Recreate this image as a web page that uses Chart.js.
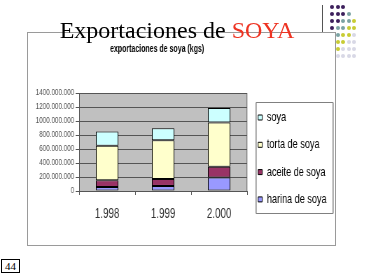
<!DOCTYPE html>
<html>
<head>
<meta charset="utf-8">
<script src="https://cdn.jsdelivr.net/npm/chart.js@4.4.1/dist/chart.umd.min.js"></script>
<style>
  html, body { margin: 0; padding: 0; background: #fff; }
  body { width: 368px; height: 276px; position: relative; overflow: hidden;
         font-family: 'Liberation Serif', 'Times New Roman', serif; }
  .dot { position: absolute; width: 4px; height: 4px; border-radius: 50%; }
  #vline { position: absolute; left: 322px; top: 5px; width: 1px; height: 27px; background: #555; }
  #box { position: absolute; left: 27px; top: 32px; width: 309px; height: 214px;
         box-sizing: border-box; border: 1px solid #9a9a9a; background: #fff; }
  /* the original excel picture is squeezed sideways */
  #chart { position: absolute; left: 28px; top: 33px; transform: scaleX(0.7); transform-origin: 0 0; }
  #slideTitle { position: absolute; left: 0; width: 354px; top: 18px; text-align: center;
                font-size: 24px; line-height: 24px; color: #000; white-space: nowrap; }
  #slideTitle span { color: #ee3322; }
  #pageNum { position: absolute; left: 1px; top: 259px; width: 19px; height: 14px; box-sizing: border-box;
             border: 1px solid #000; font-size: 11px; line-height: 12px; text-align: center; }
</style>
</head>
<body>
<div id="dots"></div>
<div id="vline"></div>
<div id="box"></div>
<canvas id="chart" width="440" height="212"></canvas>
<div id="slideTitle">Exportaciones de <span>SOYA</span></div>
<div id="pageNum">44</div>
<script>
// kgs exported per year
const years = ['1.998', '1.999', '2.000'];
const harina = [58000000, 72000000, 192000000];
const aceite = [95000000, 100000000, 153000000];
const torta = [494000000, 552000000, 633000000];
const soya = [202000000, 173000000, 207000000];

const seriesNames = ['harina de soya', 'aceite de soya', 'torta de soya', 'soya'];
const seriesColors = ['#9999ff', '#993366', '#ffffcc', '#ccffff'];
const yTicks = ['0', '200.000.000', '400.000.000', '600.000.000', '800.000.000',
                '1000.000.000', '1200.000.000', '1400.000.000'];

// slide template dots (purple -> teal -> yellow -> grey)
const dotColors = ['#3d1f5c', '#7ba3a3', '#c8cc33', '#d8d8e6'];
const dotsEl = document.getElementById('dots');
for (let r = 0; r < 8; r++) {
  const n = Math.min(3 + r, 5);
  for (let c = 0; c < n; c++) {
    const s = r + c;
    const col = s <= 3 ? 0 : s <= 5 ? 1 : s <= 7 ? 2 : 3;
    const d = document.createElement('div');
    d.className = 'dot';
    d.style.left = (330 + c * 5.5) + 'px';
    d.style.top = (5 + r * 7) + 'px';
    d.style.background = dotColors[col];
    dotsEl.appendChild(d);
  }
}

const sx = 0.7; // horizontal squeeze of the canvas
const font = "'Liberation Sans', Arial, sans-serif";

const plotBg = {
  id: 'plotBg',
  beforeDraw(chart) {
    const { ctx, chartArea: a } = chart;
    ctx.save();
    ctx.fillStyle = '#c0c0c0';
    ctx.fillRect(a.left, a.top, a.right - a.left, a.bottom - a.top);
    ctx.fillStyle = '#808080';
    ctx.fillRect(a.right - 1, a.top, 1.4, a.bottom - a.top);
    ctx.restore();
  }
};

// excel-like legend: close to the plot, framed
const legendPlace = {
  id: 'legendPlace',
  afterLayout(chart) {
    const lg = chart.legend, a = chart.chartArea;
    const pad = lg.options.labels.padding;
    const colH = lg.columnSizes[0].height;
    const y0 = (lg.top + pad + lg.bottom - colH) / 2;
    const dx = a.right + 11 / sx - (lg.left + pad);
    const dy = a.top + 18 - y0;
    lg.left += dx; lg.top += dy; lg.bottom += dy;
    lg.right = chart.width; // the legend clips to its box; give the labels room
    lg.width = lg.right - lg.left;
    const t = chart.titleBlock;
    t.left -= 6 / sx; t.right -= 6 / sx;
  },
  afterDraw(chart) {
    const { ctx, chartArea: a } = chart;
    const lg = chart.legend;
    const pad = lg.options.labels.padding;
    const step = lg.options.labels.font.size + pad;
    const x = lg.left + pad - 2 / sx;
    const w = 77 / sx;
    const top = Math.round(a.top + 9) + 0.5;
    const bottom = Math.round(a.top + 23 + 3 * step + 15) + 0.5;
    ctx.save();
    ctx.strokeStyle = '#808080';
    ctx.lineWidth = 1;
    ctx.beginPath();
    ctx.moveTo(x, top); ctx.lineTo(x + w, top);
    ctx.moveTo(x, bottom); ctx.lineTo(x + w, bottom);
    ctx.stroke();
    ctx.fillStyle = '#808080';
    ctx.fillRect(x - 0.7, top, 1.4, bottom - top);
    ctx.fillRect(x + w - 0.7, top, 1.4, bottom - top);
    ctx.restore();
  }
};

new Chart(document.getElementById('chart'), {
  type: 'bar',
  data: {
    labels: years,
    datasets: [harina, aceite, torta, soya].map((d, i) => ({
      label: seriesNames[i],
      data: d,
      backgroundColor: seriesColors[i],
      borderColor: '#000',
      borderWidth: 1,
      borderSkipped: false,
      barPercentage: 0.4,
      categoryPercentage: 1
    }))
  },
  options: {
    responsive: false,
    animation: false,
    devicePixelRatio: 1,
    layout: { padding: { right: 27 } },
    plugins: {
      tooltip: { enabled: false },
      title: {
        display: true,
        text: 'exportaciones de soya (kgs)',
        fullSize: false,
        color: '#000',
        font: { family: font, size: 10, weight: 'bold' },
        padding: { top: 10, bottom: 38 }
      },
      legend: {
        position: 'right',
        reverse: true,
        maxWidth: 100,
        labels: {
          boxWidth: 6,
          boxHeight: 5,
          padding: 14.3,
          color: '#000',
          font: { family: font, size: 13 }
        }
      }
    },
    scales: {
      x: {
        stacked: true,
        grid: { offset: true, drawOnChartArea: false, tickLength: 4, color: '#555' },
        border: { color: '#555' },
        ticks: { color: '#333', padding: 11, font: { family: font, size: 14 } },
        afterFit(s) { s.height = 54; }
      },
      y: {
        stacked: true,
        min: 0,
        max: 1400000000,
        grid: { color: '#555', tickLength: 5 },
        border: { color: '#555' },
        ticks: {
          stepSize: 200000000,
          color: '#555',
          padding: 2,
          font: { family: font, size: 9 },
          callback: v => yTicks[Math.round(v / 200000000)]
        },
        afterFit(s) { s.width = 73; }
      }
    }
  },
  plugins: [plotBg, legendPlace]
});
</script>
</body>
</html>
